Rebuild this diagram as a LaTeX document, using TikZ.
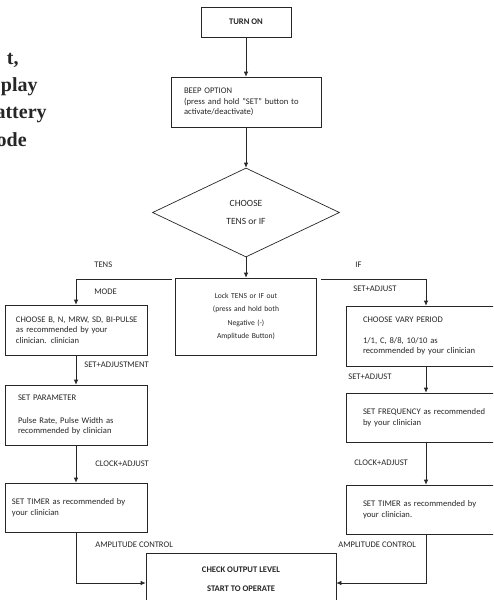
\documentclass[tikz,border=0pt]{standalone}
\usepackage{fontspec}
\setmainfont{Carlito}
\newfontfamily\headfont{Liberation Serif}
\usetikzlibrary{shapes.geometric,arrows.meta}

\begin{document}
\begin{tikzpicture}[x=1pt, y=-1pt, line width=0.7pt, draw=black!85, text=black!85,
            >={Latex[length=5pt,width=4.5pt]},
            box/.style={draw, rectangle, align=left, inner ysep=0pt,
                font=\fontsize{8.6}{10.5}\selectfont},
            lbl/.style={anchor=west, inner sep=0pt, font=\fontsize{8.6}{9}\selectfont},
            head/.style={anchor=base east, inner sep=0pt,
                font=\headfont\bfseries\fontsize{20}{27}\selectfont}]
            \useasboundingbox (0,0) rectangle (493,600);
            \clip (0,0) rectangle (493,600);

            \node[head] (head-1) at (19,64) {t,};
            \node[head] (head-2) at (38,91) {play};
            \node[head] (head-3) at (47,118) {attery};
            \node[head] (head-4) at (27,146) {ode};

            \node[box, align=center, minimum width=90pt, minimum height=30pt,
                font=\bfseries\fontsize{8.6}{9}\selectfont] (turn-on) at (246,22) {TURN ON};
            \node[box, text width=124pt, inner xsep=13pt, minimum height=50pt] (beep) at (246,102)
                {BEEP OPTION\\(press and hold "SET" button to\\activate/deactivate)};
            \node[draw, diamond, minimum width=187pt, minimum height=89pt, inner sep=0pt,
                align=center, font=\fontsize{9.5}{18}\selectfont] (choose) at (246,212.5)
                {CHOOSE\\TENS or IF};
            \node[box, align=center, text width=115pt, inner xsep=13pt, minimum height=77pt,
                font=\fontsize{7.6}{13.3}\selectfont] (lock) at (246,316.5)
                {Lock TENS or IF out\\(press and hold both\\Negative (-)\\Amplitude Button)};

            \node[box, text width=120pt, inner xsep=11pt, minimum height=50pt] (choose-mode) at (76,330)
                {\mbox{CHOOSE B, N, MRW, SD, BI-PULSE}\\as recommended by your\\clinician. clinician};
            \node[box, text width=116pt, inner xsep=13pt, minimum height=60pt] (set-param) at (76,415)
                {SET PARAMETER\\[12pt]Pulse Rate, Pulse Width as\\recommended by clinician};
            \node[box, text width=128pt, inner xsep=7pt, minimum height=49pt] (timer-tens) at (76,507.5)
                {SET TIMER as recommended by\\your clinician};

            \node[box, text width=126pt, inner xsep=17pt, minimum height=60pt] (vary-period) at (426,336)
                {CHOOSE VARY PERIOD\\[10pt]1/1, C, 8/8, 10/10 as\\recommended by your clinician};
            \node[box, text width=126pt, inner xsep=17pt, minimum height=49pt] (set-freq) at (426,417.5)
                {SET FREQUENCY as recommended\\by your clinician};
            \node[box, text width=126pt, inner xsep=17pt, minimum height=49pt] (timer-if) at (426,509.5)
                {SET TIMER as recommended by\\your clinician.};

            \node[box, align=center, minimum width=190pt, minimum height=53pt,
                font=\bfseries\fontsize{8.6}{19}\selectfont] (check) at (241,579.5)
                {CHECK OUTPUT LEVEL\\START TO OPERATE};

            \coordinate (tens-end) at (172,279);
            \coordinate (if-end) at (321,279);

            \draw (turn-on) edge[->] (beep)
                (beep) edge[->] (choose)
                (choose) edge[->] (lock);
            \draw[->] (tens-end) -| (choose-mode);
            \draw[->] (if-end) -| (vary-period);
            \draw (choose-mode) edge[->] (set-param)
                (set-param) edge[->] (timer-tens)
                (vary-period) edge[->] (set-freq)
                (set-freq) edge[->] (timer-if);
            \draw[->] (timer-tens) |- ([yshift=-3.5pt]check.west);
            \draw[->] (timer-if) |- ([yshift=-3.5pt]check.east);

            \node[lbl] (tens-lbl) at (94,265) {TENS};
            \node[lbl] (mode-lbl) at (94,292) {MODE};
            \node[lbl] (set-adj-tens) at (84,365) {SET+ADJUSTMENT};
            \node[lbl] (clock-tens) at (95,464) {CLOCK+ADJUST};
            \node[lbl] (amp-tens) at (95,545) {AMPLITUDE CONTROL};
            \node[lbl] (if-lbl) at (355,265) {IF};
            \node[lbl] (set-adj-vary) at (353,289) {SET+ADJUST};
            \node[lbl] (set-adj-freq) at (348,377) {SET+ADJUST};
            \node[lbl] (clock-if) at (354,463) {CLOCK+ADJUST};
            \node[lbl] (amp-if) at (338,545) {AMPLITUDE CONTROL};
        \end{tikzpicture}
\end{document}
